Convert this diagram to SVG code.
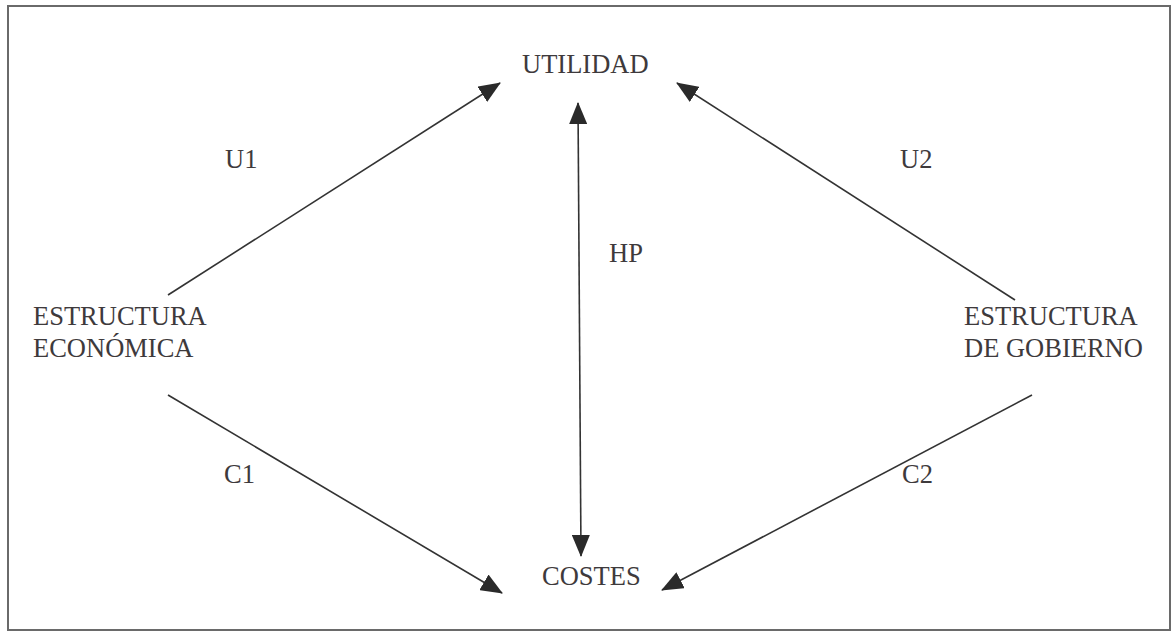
<svg xmlns="http://www.w3.org/2000/svg" width="1174" height="634" viewBox="0 0 1174 634">
  <style>
    .lbl { font-family: "Liberation Serif", "Times New Roman", serif; font-size: 26.5px; fill: #3e3a3c; }
    .edge { stroke: #333333; stroke-width: 1.6; fill: none; }
  </style>
  <defs>
    <marker id="head" viewBox="0 0 22 18" refX="21" refY="9" markerWidth="22" markerHeight="18" markerUnits="userSpaceOnUse" orient="auto-start-reverse">
      <path d="M0,0 L22,9 L0,18 z" fill="#2a2a2a"/>
    </marker>
  </defs>
  <rect x="0" y="0" width="1174" height="634" fill="#ffffff"/>
  <!-- frame -->
  <rect x="8" y="6" width="1162" height="624" fill="none" stroke="#6a6a6a" stroke-width="2"/>

  <g id="connectors">
    <line class="edge" x1="168" y1="295" x2="500" y2="83" marker-end="url(#head)"/>
    <line class="edge" x1="1015" y1="300" x2="677" y2="83" marker-end="url(#head)"/>
    <line class="edge" x1="578" y1="103" x2="581" y2="556" marker-start="url(#head)" marker-end="url(#head)"/>
    <line class="edge" x1="168" y1="395" x2="502" y2="593" marker-end="url(#head)"/>
    <line class="edge" x1="1032" y1="395" x2="662" y2="590" marker-end="url(#head)"/>
    <text class="lbl" x="225" y="168">U1</text>
    <text class="lbl" x="900" y="168">U2</text>
    <text class="lbl" x="609" y="262">HP</text>
    <text class="lbl" x="224" y="483">C1</text>
    <text class="lbl" x="902" y="483">C2</text>
  </g>

  <g id="utilidad">
    <text class="lbl" x="522" y="73">UTILIDAD</text>
  </g>
  <g id="costes">
    <text class="lbl" x="542" y="585">COSTES</text>
  </g>
  <g id="estructura-economica">
    <text class="lbl" x="33" y="325">ESTRUCTURA</text>
    <text class="lbl" x="33" y="357">ECONÓMICA</text>
  </g>
  <g id="estructura-gobierno">
    <text class="lbl" x="964" y="325">ESTRUCTURA</text>
    <text class="lbl" x="964" y="357">DE GOBIERNO</text>
  </g>
</svg>
